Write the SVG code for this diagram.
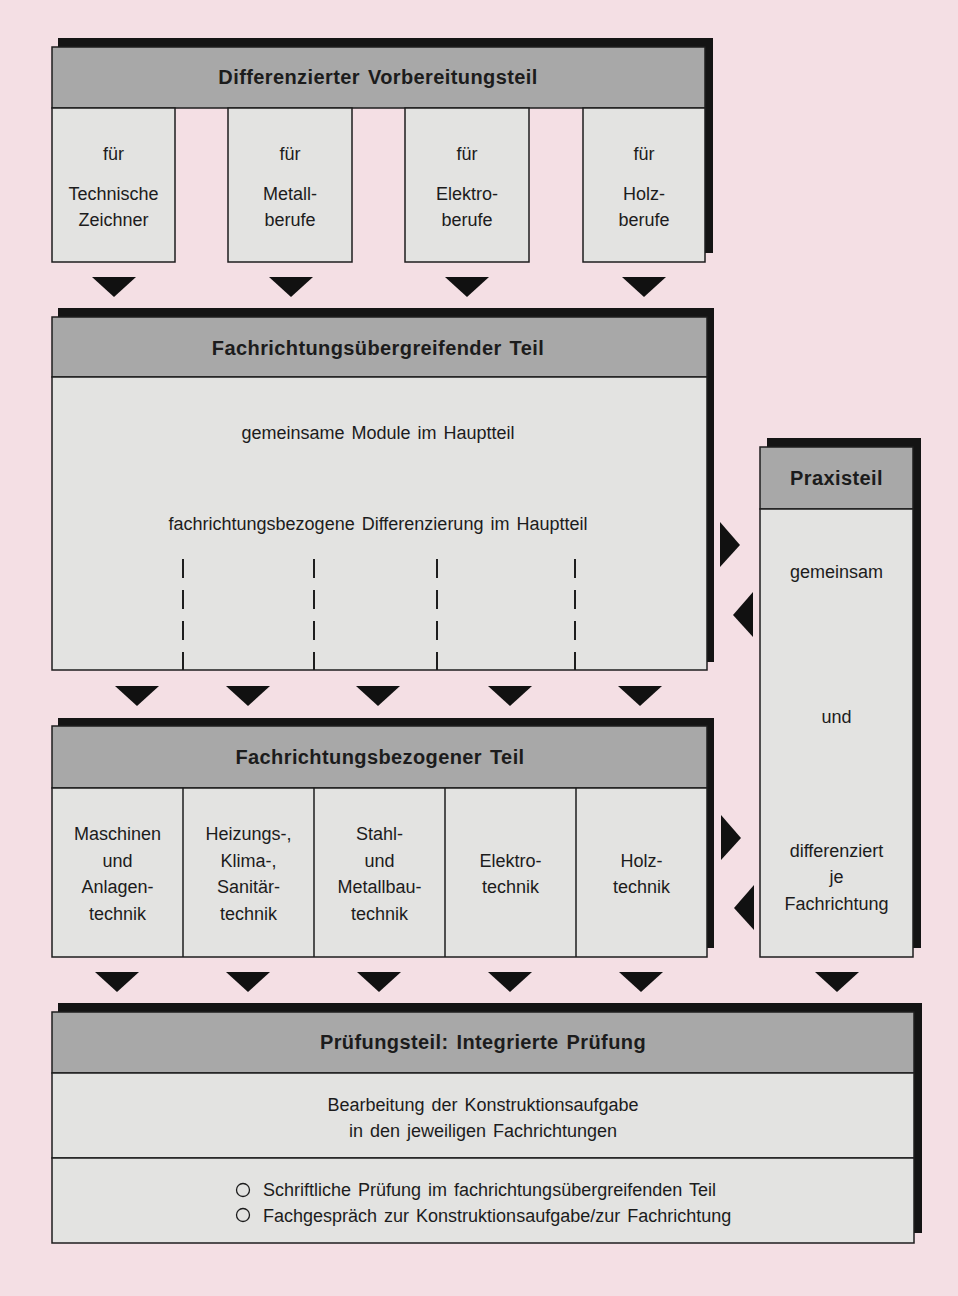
<svg xmlns="http://www.w3.org/2000/svg" width="958" height="1296" viewBox="0 0 958 1296">
<defs>
<style>
.bg{fill:#f4dfe4}
.sh{fill:#141414}
.hd{fill:#a8a8a8;stroke:#1e1e1e;stroke-width:1.5}
.bd{fill:#e3e3e1;stroke:#1e1e1e;stroke-width:1.5}
.ln{stroke:#1e1e1e;stroke-width:1.5;fill:none}
.dash{stroke:#1e1e1e;stroke-width:2;stroke-dasharray:19 12;fill:none}
.ar{fill:#111}
text{font-family:"Liberation Sans",Arial,sans-serif;font-size:18px;word-spacing:2px;fill:#1c1c1c;text-anchor:middle}
.b{font-weight:bold;font-size:20px;letter-spacing:0.4px}
.l{text-anchor:start}
.circ{fill:none;stroke:#1c1c1c;stroke-width:1.3}
</style>
</defs>
<rect class="bg" x="0" y="0" width="958" height="1296"/>

<g id="vorbereitung">
<path class="sh" d="M58 38 H713 V253 H705 V47 H58 Z"/>
<rect class="hd" x="52" y="47" width="653" height="61"/>
<text class="b" x="378" y="84">Differenzierter Vorbereitungsteil</text>
</g>
<g id="v-technische">
<rect class="bd" x="52" y="108" width="123" height="154"/>
<text x="113.5" y="160">für</text>
<text x="113.5" y="200">Technische</text>
<text x="113.5" y="226">Zeichner</text>
</g>
<g id="v-metall">
<rect class="bd" x="228" y="108" width="124" height="154"/>
<text x="290" y="160">für</text>
<text x="290" y="200">Metall-</text>
<text x="290" y="226">berufe</text>
</g>
<g id="v-elektro">
<rect class="bd" x="405" y="108" width="124" height="154"/>
<text x="467" y="160">für</text>
<text x="467" y="200">Elektro-</text>
<text x="467" y="226">berufe</text>
</g>
<g id="v-holz">
<rect class="bd" x="583" y="108" width="122" height="154"/>
<text x="644" y="160">für</text>
<text x="644" y="200">Holz-</text>
<text x="644" y="226">berufe</text>
</g>

<g id="uebergreifend">
<path class="sh" d="M58 308 H714 V662 H707 V317 H58 Z"/>
<rect class="hd" x="52" y="317" width="655" height="60"/>
<rect class="bd" x="52" y="377" width="655" height="293"/>
<text class="b" x="378" y="355">Fachrichtungsübergreifender Teil</text>
<text x="378" y="439">gemeinsame Module im Hauptteil</text>
<text x="378" y="530">fachrichtungsbezogene Differenzierung im Hauptteil</text>
<line class="dash" x1="183" y1="559" x2="183" y2="670"/>
<line class="dash" x1="314" y1="559" x2="314" y2="670"/>
<line class="dash" x1="437" y1="559" x2="437" y2="670"/>
<line class="dash" x1="575" y1="559" x2="575" y2="670"/>
</g>

<g id="praxisteil">
<path class="sh" d="M767 438 H921 V948 H913 V447 H767 Z"/>
<rect class="hd" x="760" y="447" width="153" height="62"/>
<rect class="bd" x="760" y="509" width="153" height="448"/>
<text class="b" x="836.5" y="485">Praxisteil</text>
<text x="836.5" y="578">gemeinsam</text>
<text x="836.5" y="723">und</text>
<text x="836.5" y="857">differenziert</text>
<text x="836.5" y="883">je</text>
<text x="836.5" y="910">Fachrichtung</text>
</g>

<g id="bezogen">
<path class="sh" d="M58 718 H714 V948 H707 V726 H58 Z"/>
<rect class="hd" x="52" y="726" width="655" height="62"/>
<rect class="bd" x="52" y="788" width="655" height="169"/>
<text class="b" x="380" y="764">Fachrichtungsbezogener Teil</text>
<line class="ln" x1="183" y1="788" x2="183" y2="957"/>
<line class="ln" x1="314" y1="788" x2="314" y2="957"/>
<line class="ln" x1="445" y1="788" x2="445" y2="957"/>
<line class="ln" x1="576" y1="788" x2="576" y2="957"/>
<text x="117.5" y="840">Maschinen</text>
<text x="117.5" y="867">und</text>
<text x="117.5" y="893">Anlagen-</text>
<text x="117.5" y="920">technik</text>
<text x="248.5" y="840">Heizungs-,</text>
<text x="248.5" y="867">Klima-,</text>
<text x="248.5" y="893">Sanitär-</text>
<text x="248.5" y="920">technik</text>
<text x="379.5" y="840">Stahl-</text>
<text x="379.5" y="867">und</text>
<text x="379.5" y="893">Metallbau-</text>
<text x="379.5" y="920">technik</text>
<text x="510.5" y="867">Elektro-</text>
<text x="510.5" y="893">technik</text>
<text x="641.5" y="867">Holz-</text>
<text x="641.5" y="893">technik</text>
</g>

<g id="pruefung">
<path class="sh" d="M58 1003 H922 V1233 H914 V1012 H58 Z"/>
<rect class="hd" x="52" y="1012" width="862" height="61"/>
<rect class="bd" x="52" y="1073" width="862" height="85"/>
<rect class="bd" x="52" y="1158" width="862" height="85"/>
<text class="b" x="483" y="1049">Prüfungsteil: Integrierte Prüfung</text>
<text x="483" y="1111">Bearbeitung der Konstruktionsaufgabe</text>
<text x="483" y="1137">in den jeweiligen Fachrichtungen</text>
<circle class="circ" cx="243" cy="1190" r="6.5"/>
<circle class="circ" cx="243" cy="1215" r="6.5"/>
<text class="l" x="263" y="1196">Schriftliche Prüfung im fachrichtungsübergreifenden Teil</text>
<text class="l" x="263" y="1222">Fachgespräch zur Konstruktionsaufgabe/zur Fachrichtung</text>
</g>

<g id="connectors">
<polygon class="ar" points="92,277 136,277 114,297"/>
<polygon class="ar" points="269,277 313,277 291,297"/>
<polygon class="ar" points="445,277 489,277 467,297"/>
<polygon class="ar" points="622,277 666,277 644,297"/>

<polygon class="ar" points="115,686 159,686 137,706"/>
<polygon class="ar" points="226,686 270,686 248,706"/>
<polygon class="ar" points="356,686 400,686 378,706"/>
<polygon class="ar" points="488,686 532,686 510,706"/>
<polygon class="ar" points="618,686 662,686 640,706"/>

<polygon class="ar" points="95,972 139,972 117,992"/>
<polygon class="ar" points="226,972 270,972 248,992"/>
<polygon class="ar" points="357,972 401,972 379,992"/>
<polygon class="ar" points="488,972 532,972 510,992"/>
<polygon class="ar" points="619,972 663,972 641,992"/>
<polygon class="ar" points="815,972 859,972 837,992"/>

<polygon class="ar" points="720,522 740,545 720,567"/>
<polygon class="ar" points="753,592 733,615 753,637"/>
<polygon class="ar" points="721,815 741,838 721,860"/>
<polygon class="ar" points="754,885 734,908 754,930"/>
</g>
</svg>
